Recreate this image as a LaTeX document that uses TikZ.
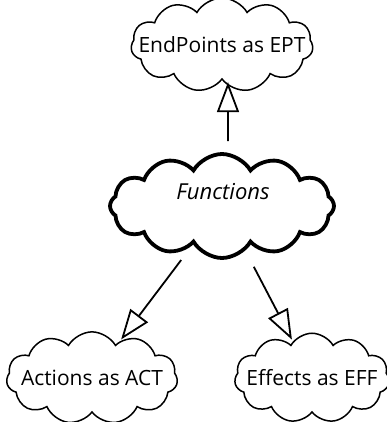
\documentclass[tikz,border=0pt]{standalone}
\usepackage{fontspec}
\setmainfont{Open Sans}
\usepackage{tikz}
\usetikzlibrary{arrows.meta, shapes.symbols}

% label set on the cloud's centre, taking no room of its own
\newcommand{\puffname}[1]{\smash{\makebox[0pt]{\raisebox{-0.36em}{#1}}}}

\tikzset{
  puff/.style={draw, cloud, cloud ignores aspect, cloud puffs=11, cloud puff arc=120,
    inner ysep=24bp, line width=1.5bp, font=\fontsize{21bp}{24bp}\selectfont},
  bigpuff/.style={puff, inner sep=0pt, line width=3.8bp},
  isa/.style={line width=1.8bp, -{Triangle[open, length=30bp, width=22bp, line width=1.8bp]}}
}

\begin{document}
\begin{tikzpicture}[x=1bp, y=-1bp]
    \useasboundingbox (0,0) rectangle (387,422);
    \node[puff, inner xsep=63bp] (ept) at (222,45) {\puffname{EndPoints as EPT}};
    \node[bigpuff, cloud puffs=12, minimum width=224bp, minimum height=104bp] (fun) at (222,206) {};
    \node[font=\fontsize{22bp}{24bp}\selectfont\itshape] (funtxt) at (223,192) {Functions};
    \node[puff, inner xsep=59bp] (act) at (92,378) {\puffname{Actions as ACT}};
    \node[puff, inner xsep=53bp] (eff) at (312,378) {\puffname{Effects as EFF}};
    \draw[isa, shorten <=11bp, shorten >=2bp] ([xshift=6bp]fun.north) -- ([xshift=6bp]ept.south);
    \draw[isa, shorten <=18bp, shorten >=2bp] (fun) -- (act);
    \draw[isa, shorten <=18bp, shorten >=2bp] (fun) -- (eff);
\end{tikzpicture}
\end{document}
